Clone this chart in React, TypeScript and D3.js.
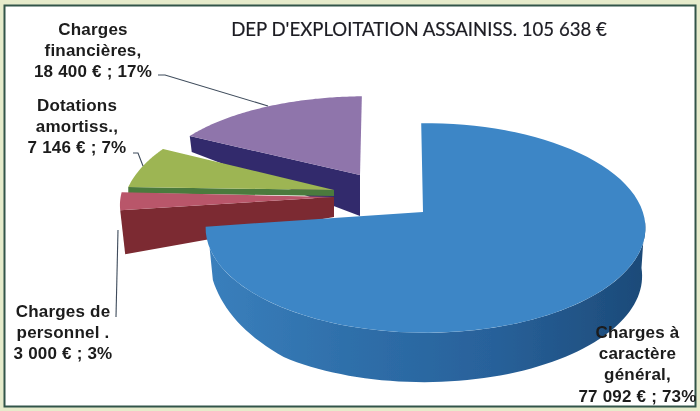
import React from 'react';
import * as d3 from 'd3';

const W = 700, H = 411;

// same order as the pie, clockwise from the top
const categories = ['Charges à caractère général', 'Charges de personnel', 'Dotations amortiss.', 'Charges financières'];
const values = [77092, 3000, 7146, 18400];
const nameLines = [
  ['Charges à', 'caractère', 'général,'],
  ['Charges de', 'personnel .'],
  ['Dotations', 'amortiss.,'],
  ['Charges', 'financières,'],
];
const title = "DEP D'EXPLOITATION ASSAINISS. 105 638 €";

const topColors = ['#3c86c6', '#b9566a', '#9db552', '#8f74ab'];
const wallColors = ['#2a659f', '#7c2a30', '#4c7a3c', '#332c6c'];

// each slice is pulled out and seen in perspective: x0,y0 = centre of the rim,
// b/a = radii, k = perspective strength, apex = inner corner of the slice
const frames = [
  { x0: 425.5, y0: 211, b: 217, a: 102, k: 0.162, apex: [423, 212], rimDrop: 0, apexDrop: 0, wallDx: 0 },
  { x0: 333, y0: 195, b: 212, a: 100, k: 0.1, apex: [334, 197], rimDrop: 44, apexDrop: 20, wallDx: 5 },
  { x0: 335, y0: 190, b: 208, a: 102, k: 0.2, apex: [334, 190], rimDrop: 6, apexDrop: 6, wallDx: 0 },
  { x0: 366, y0: 172, b: 210, a: 88, k: 0.162, apex: [360, 175], rimDrop: 16, apexDrop: 41, wallDx: 2 },
];

const labelPos = [
  { x: 637.5, y: 338 },
  { x: 63, y: 317 },
  { x: 77, y: 111 },
  { x: 93, y: 35 },
];

const leaders = [
  null,
  [[116, 317], [118, 230]],
  [[133, 153], [138, 153], [143, 166]],
  [[158, 75], [165, 75], [268, 106]],
];

const pie = d3.pie<number>().sort(null).startAngle(-0.023).endAngle(2 * Math.PI - 0.023);
const slices = pie(values);
const total = d3.sum(values);
const frLocale = d3.formatLocale({ decimal: ',', thousands: ' ', grouping: [3], currency: ['', ' €'] });
const fmtValue = frLocale.format(',d');

type Frame = typeof frames[number];

function project(f: Frame, angle: number): [number, number] {
  const u = Math.sin(angle), v = -Math.cos(angle);
  const den = 1 - f.k * v;
  return [f.x0 + (f.b * u) / den, f.y0 + (f.a * v) / den];
}

const rad = (deg: number) => (deg * Math.PI) / 180;

function rim(f: Frame, from: number, to: number) {
  return d3.range(0, 81).map((i) => from + ((to - from) * i) / 80).map((a) => ({ a, p: project(f, a) }));
}

const line = d3.line();

// the blue wall gets thinner towards its left end
const blueDrop = d3.scaleLinear().domain([rad(95), rad(215), rad(232), rad(250)]).range([48, 50, 42, 32]);

export default function App() {
  const blue = frames[0];
  const wallTop = rim(blue, rad(95), rad(250));
  const wallBottom = wallTop
    .map(({ a, p: [x, y] }): [number, number] => [blue.x0 + (x - blue.x0) * 0.985, y + blueDrop(a)])
    .reverse();

  // painted back to front
  const order = [3, 2, 1, 0];

  return (
    <svg width={W} height={H} style={{ position: 'absolute', left: 0, top: 0 }}>
      <defs>
        <linearGradient id="blueWall" x1="0" x2="1" y1="0" y2="0">
          <stop offset="0" stopColor="#3a7fbc" />
          <stop offset="0.3" stopColor="#2f70ab" />
          <stop offset="0.65" stopColor="#28619a" />
          <stop offset="1" stopColor="#1c4a78" />
        </linearGradient>
        <filter id="scan" x="-2%" y="-2%" width="104%" height="104%">
          <feGaussianBlur stdDeviation="0.45" />
        </filter>
      </defs>
      <rect width={W} height={H} fill="#e6ebcb" />
      <g filter="url(#scan)">
        <rect x={4.5} y={5.5} width={691} height={401} fill="#fff" stroke="#33554a" strokeWidth={2} />
        {order.map((i) => {
          const f = frames[i], s = slices[i];
          const pts = rim(f, s.startAngle, s.endAngle).map((d) => d.p);
          const rimPt = pts[0];
          const inner = f.apex;
          return (
            <g key={categories[i]}>
              {i === 0 ? (
                <path d={line([...wallTop.map((d) => d.p), ...wallBottom]) + 'Z'} fill="url(#blueWall)" />
              ) : (
                <path
                  d={line([
                    rimPt,
                    inner,
                    [inner[0], inner[1] + f.apexDrop],
                    [rimPt[0] + f.wallDx, rimPt[1] + f.rimDrop],
                  ] as [number, number][]) + 'Z'}
                  fill={wallColors[i]}
                />
              )}
              <path d={line([...pts, inner] as [number, number][]) + 'Z'} fill={topColors[i]} />
            </g>
          );
        })}
        {leaders.map((l, i) =>
          l ? <path key={i} d={line(l as [number, number][])!} fill="none" stroke="#3f4c5c" strokeWidth={1.1} /> : null
        )}
        <text x={419} y={36} textAnchor="middle" fontFamily="Lato" fontSize={18.6} fill="#1d1d24" stroke="#1d1d24" strokeWidth={0.2}>
          {title}
        </text>
        {slices.map((s, i) => {
          const pos = labelPos[i];
          const lines = [...nameLines[i], `${fmtValue(s.value)} € ; ${Math.round((s.value / total) * 100)}%`];
          return (
            <text
              key={categories[i]}
              textAnchor="middle"
              fontFamily="'Liberation Sans'"
              fontWeight="bold"
              fontSize={17}
              letterSpacing={0.2}
              fill="#1a1a1a"
            >
              {lines.map((t, j) => (
                <tspan key={j} x={pos.x} y={pos.y + j * 21.2}>
                  {t}
                </tspan>
              ))}
            </text>
          );
        })}
      </g>
    </svg>
  );
}
